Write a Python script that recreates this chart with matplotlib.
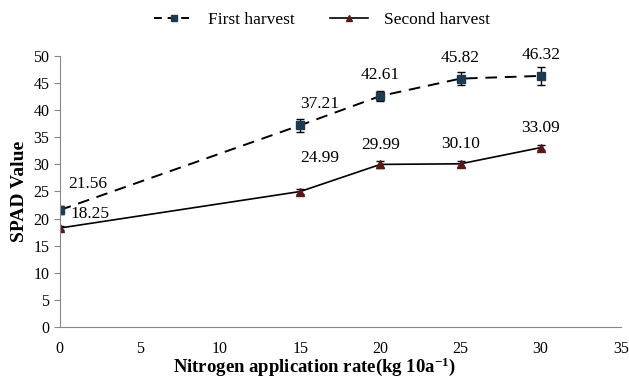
import numpy as np
import matplotlib.pyplot as plt
from matplotlib.lines import Line2D

plt.rcParams['font.family'] = ['Liberation Serif', 'DejaVu Serif']
plt.rcParams['mathtext.fontset'] = 'custom'
plt.rcParams['mathtext.rm'] = 'Liberation Serif'
plt.rcParams['mathtext.bf'] = 'Liberation Serif:bold'

# dados
nitrogen = [0, 15, 20, 25, 30]
first_harvest = [21.56, 37.21, 42.61, 45.82, 46.32]
first_err = [0.8, 1.2, 1.0, 1.2, 1.7]
second_harvest = [18.25, 24.99, 29.99, 30.10, 33.09]
second_err = [0.4, 0.5, 0.6, 0.5, 0.5]

# deslocamento dos rótulos (pontos)
off_first = [(20, 19), (14, 15), (0, 15), (0, 15), (0, 15)]
off_second = [(22, 10), (14, 24), (0, 14), (0, 14), (0, 14)]

fig = plt.figure(figsize=(6.29, 3.78), dpi=100)
ax = fig.add_axes([0.095, 0.135, 0.892, 0.717])

ax.errorbar(nitrogen, first_harvest, yerr=first_err, color='black', linestyle=(0, (6, 4)),
            linewidth=1.4, marker='s', markersize=6, markerfacecolor='#1d3a50',
            markeredgecolor='#1d3a50', ecolor='black', elinewidth=1, capsize=3)
ax.errorbar(nitrogen, second_harvest, yerr=second_err, color='black', linestyle='-',
            linewidth=1.2, marker='^', markersize=6, markerfacecolor='#5a1818',
            markeredgecolor='#5a1818', ecolor='black', elinewidth=1, capsize=3)

for x, y, o in zip(nitrogen, first_harvest, off_first):
    ax.annotate(f'{y:.2f}', (x, y), xytext=o, textcoords='offset points',
                ha='center', va='center', fontsize=12.5)
for x, y, o in zip(nitrogen, second_harvest, off_second):
    ax.annotate(f'{y:.2f}', (x, y), xytext=o, textcoords='offset points',
                ha='center', va='center', fontsize=12.5)

ax.set_xlim(0, 35)
ax.set_ylim(0, 50)
ax.set_xticks(np.arange(0, 36, 5))
ax.set_yticks(np.arange(0, 51, 5))
ax.tick_params(axis='both', labelsize=11.5, color='#888888', length=4)
ax.tick_params(axis='x', length=0, pad=10)
for s in ['top', 'right']:
    ax.spines[s].set_visible(False)
for s in ['left', 'bottom']:
    ax.spines[s].set_color('#888888')

ax.set_ylabel('SPAD Value', fontsize=14, fontweight='bold')
fig.text(0.5, 0.03, r'Nitrogen application rate(kg 10a$\mathbf{^{-1}}$)', fontsize=13.5,
         fontweight='bold', ha='center', va='center')

handles = [
    Line2D([], [], color='black', linestyle=(0, (4, 3)), linewidth=1.4, marker='s',
           markersize=5, markerfacecolor='#1d3a50', markeredgecolor='#1d3a50'),
    Line2D([], [], color='black', linestyle='-', linewidth=1.2, marker='^',
           markersize=5, markerfacecolor='#5a1818', markeredgecolor='#5a1818'),
]
fig.legend(handles, ['First harvest', 'Second harvest'], loc='center',
           bbox_to_anchor=(0.512, 0.947), ncol=2, frameon=False,
           fontsize=12.5, handlelength=2.2, handletextpad=0.9, columnspacing=2.0)

plt.savefig('out.png', dpi=100)
